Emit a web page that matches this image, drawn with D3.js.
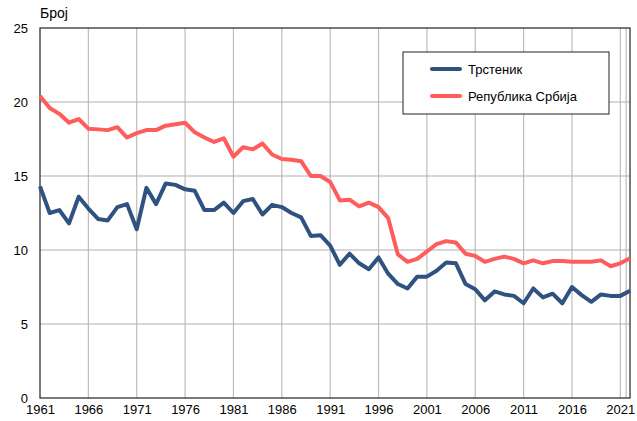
<!doctype html>
<html>
<head>
<meta charset="utf-8" />
<script src="https://cdn.jsdelivr.net/npm/d3@7"></script>
<style>
  body { margin: 0; background: #fff; }
  text { font-family: "Liberation Sans", Arial, sans-serif; }
</style>
</head>
<body>
<div id="chart"></div>
<script>
// data
var years = d3.range(1961, 2023);
var trstenik = [14.3, 12.5, 12.7, 11.8, 13.6, 12.8, 12.1, 12.0, 12.9, 13.1,
  11.4, 14.2, 13.1, 14.5, 14.4, 14.1, 14.0, 12.7, 12.7, 13.2,
  12.5, 13.3, 13.45, 12.4, 13.05, 12.9, 12.5, 12.2, 10.95, 11.0,
  10.3, 9.0, 9.75, 9.1, 8.7, 9.5, 8.4, 7.7, 7.4, 8.2,
  8.2, 8.6, 9.15, 9.1, 7.7, 7.35, 6.6, 7.2, 7.0, 6.9,
  6.4, 7.4, 6.8, 7.05, 6.4, 7.5, 6.95, 6.5, 7.0, 6.9,
  6.9, 7.25];
var srbija = [20.4, 19.6, 19.2, 18.6, 18.85, 18.2, 18.15, 18.1, 18.3, 17.6,
  17.9, 18.1, 18.1, 18.4, 18.5, 18.6, 17.95, 17.6, 17.3, 17.55,
  16.3, 16.95, 16.8, 17.2, 16.45, 16.15, 16.1, 16.0, 15.0, 15.0,
  14.6, 13.35, 13.4, 12.95, 13.2, 12.9, 12.15, 9.7, 9.2, 9.4,
  9.9, 10.4, 10.6, 10.5, 9.75, 9.6, 9.2, 9.4, 9.55, 9.4,
  9.1, 9.3, 9.1, 9.25, 9.25, 9.2, 9.2, 9.2, 9.3, 8.9,
  9.1, 9.45];
var tickYears = d3.range(1961, 2022, 5);
var yTicks = [0, 5, 10, 15, 20, 25];
var seriesNames = ["Трстеник", "Република Србија"];
var colors = ["#2f5280", "#ff5c5c"];

var W = 637, H = 421;
var m = {left: 40, right: 7, top: 28, bottom: 23};

var svg = d3.select('#chart').append('svg')
    .attr('width', W)
    .attr('height', H);

var x = d3.scaleLinear().domain([1961, 2022]).range([m.left, W - m.right]);
var y = d3.scaleLinear().domain([0, 25]).range([H - m.bottom, m.top]);

// grid
svg.append('g').selectAll('line.v')
    .data(tickYears.slice(1).concat([2021.6]))
    .enter().append('line')
    .attr('x1', d => x(d)).attr('x2', d => x(d))
    .attr('y1', y(0)).attr('y2', y(25))
    .style('stroke', '#bdbdbd').style('stroke-width', 1.2);
svg.append('g').selectAll('line.h')
    .data(yTicks.slice(1, 5))
    .enter().append('line')
    .attr('x1', x(1961)).attr('x2', x(2022))
    .attr('y1', d => y(d)).attr('y2', d => y(d))
    .style('stroke', '#b0b0b0').style('stroke-width', 1.2);

// frame
svg.append('rect')
    .attr('x', x(1961)).attr('y', y(25))
    .attr('width', x(2022) - x(1961)).attr('height', y(0) - y(25))
    .style('fill', 'none').style('stroke', '#222').style('stroke-width', 1.2);

// axes labels
var xAxis = d3.axisBottom(x).tickValues(tickYears).tickFormat(d3.format('d')).tickSize(0).tickPadding(7);
var gx = svg.append('g').attr('transform', 'translate(0,' + y(0) + ')').call(xAxis);
gx.select('.domain').remove();
gx.selectAll('text').style('font-size', '13px').style('fill', '#000')
    .style('font-family', '"Liberation Sans", Arial, sans-serif');

var yAxis = d3.axisLeft(y).tickValues(yTicks).tickSize(0).tickPadding(12);
var gy = svg.append('g').attr('transform', 'translate(' + x(1961) + ',0)').call(yAxis);
gy.select('.domain').remove();
gy.selectAll('text').style('font-size', '13px').style('fill', '#000')
    .style('font-family', '"Liberation Sans", Arial, sans-serif');

svg.append('text').attr('x', 40).attr('y', 18)
    .style('font-size', '14px').text('Број');

// lines
var line = d3.line().x((d, i) => x(years[i])).y(d => y(d));
[trstenik, srbija].forEach(function (s, k) {
    svg.append('path').datum(s)
        .attr('d', line)
        .style('fill', 'none')
        .style('stroke', colors[k])
        .style('stroke-width', 4)
        .style('stroke-linejoin', 'round');
});

// legend
var lg = svg.append('g').attr('transform', 'translate(403,52)');
lg.append('rect').attr('width', 206).attr('height', 62)
    .style('fill', '#fff').style('stroke', '#222').style('stroke-width', 1);
seriesNames.forEach(function (n, k) {
    var ly = 17 + k * 27;
    lg.append('line').attr('x1', 29).attr('x2', 57).attr('y1', ly).attr('y2', ly)
        .style('stroke', colors[k]).style('stroke-width', 4).style('stroke-linecap', 'round');
    lg.append('text').attr('x', 65).attr('y', ly + 5)
        .style('font-size', '13px').text(n);
});
</script>
</body>
</html>
